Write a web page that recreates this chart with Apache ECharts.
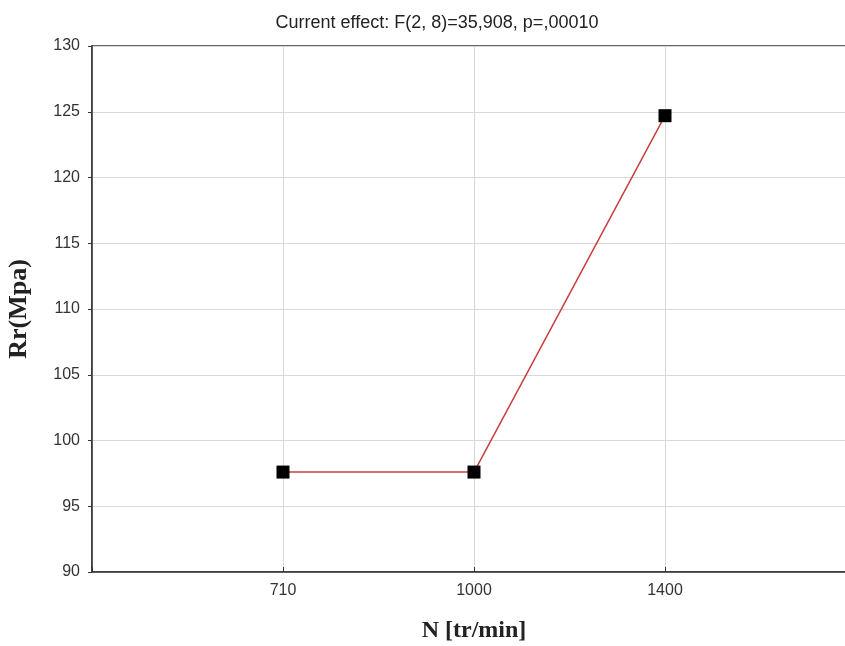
<!DOCTYPE html>
<html>
<head>
<meta charset="utf-8">
<script src="https://cdn.jsdelivr.net/npm/echarts@6/dist/echarts.min.js"></script>
<style>html,body{margin:0;padding:0;background:#fff;}#c{width:845px;height:646px;}</style>
</head>
<body>
<div id="c"></div>
<script>
const categories = ['710', '1000', '1400'];
const values = [97.6, 97.6, 124.7];
const yMin = 90, yMax = 130, yStep = 5;
const titleText = 'Current effect: F(2, 8)=35,908, p=,00010';
const xName = 'N [tr/min]';
const yName = 'Rr(Mpa)';

const axisData = [''].concat(categories, ['']);
const seriesData = [null].concat(values, [null]);

const chart = echarts.init(document.getElementById('c'), null, {renderer: 'canvas'});
chart.setOption({
  animation: false,
  backgroundColor: '#fff',
  title: {
    text: titleText, left: 432, top: 9, textAlign: 'center',
    textStyle: {fontFamily: 'Liberation Sans, Arial', fontSize: 18, fontWeight: 'normal', color: '#222'}
  },
  grid: {left: 92, width: 764, top: 46, bottom: 74, outerBoundsMode: 'none', containLabel: false,
         show: true, borderColor: '#333', borderWidth: 1.5, backgroundColor: 'transparent'},
  xAxis: {
    type: 'category', data: axisData, boundaryGap: false,
    name: xName, nameLocation: 'middle', nameGap: 47,
    nameTextStyle: {fontFamily: 'Liberation Serif, Times New Roman', fontSize: 24, fontWeight: 'bold', color: '#222'},
    axisLine: {show: true, lineStyle: {color: '#333', width: 1.5}},
    axisTick: {show: true, inside: true, length: 5, lineStyle: {color: '#333'}},
    axisLabel: {fontFamily: 'Liberation Sans, Arial', fontSize: 16, color: '#333', margin: 11},
    splitLine: {show: true, lineStyle: {color: '#d8d8d8', width: 1}}
  },
  yAxis: {
    type: 'value', min: yMin, max: yMax, interval: yStep,
    name: yName, nameLocation: 'middle', nameGap: 60, nameRotate: 90,
    nameTextStyle: {fontFamily: 'Liberation Serif, Times New Roman', fontSize: 26, fontWeight: 'bold', color: '#222'},
    axisLine: {show: true, lineStyle: {color: '#333', width: 1.5}},
    axisTick: {show: true, inside: false, length: 4, lineStyle: {color: '#333'}},
    axisLabel: {fontFamily: 'Liberation Sans, Arial', fontSize: 16, color: '#333', margin: 12},
    splitLine: {show: true, lineStyle: {color: '#d8d8d8', width: 1}}
  },
  series: [{
    type: 'line', data: seriesData, connectNulls: false,
    symbol: 'rect', symbolSize: 13,
    itemStyle: {color: '#000'},
    lineStyle: {color: '#c8403e', width: 1.5}
  }]
});
</script>
</body>
</html>
